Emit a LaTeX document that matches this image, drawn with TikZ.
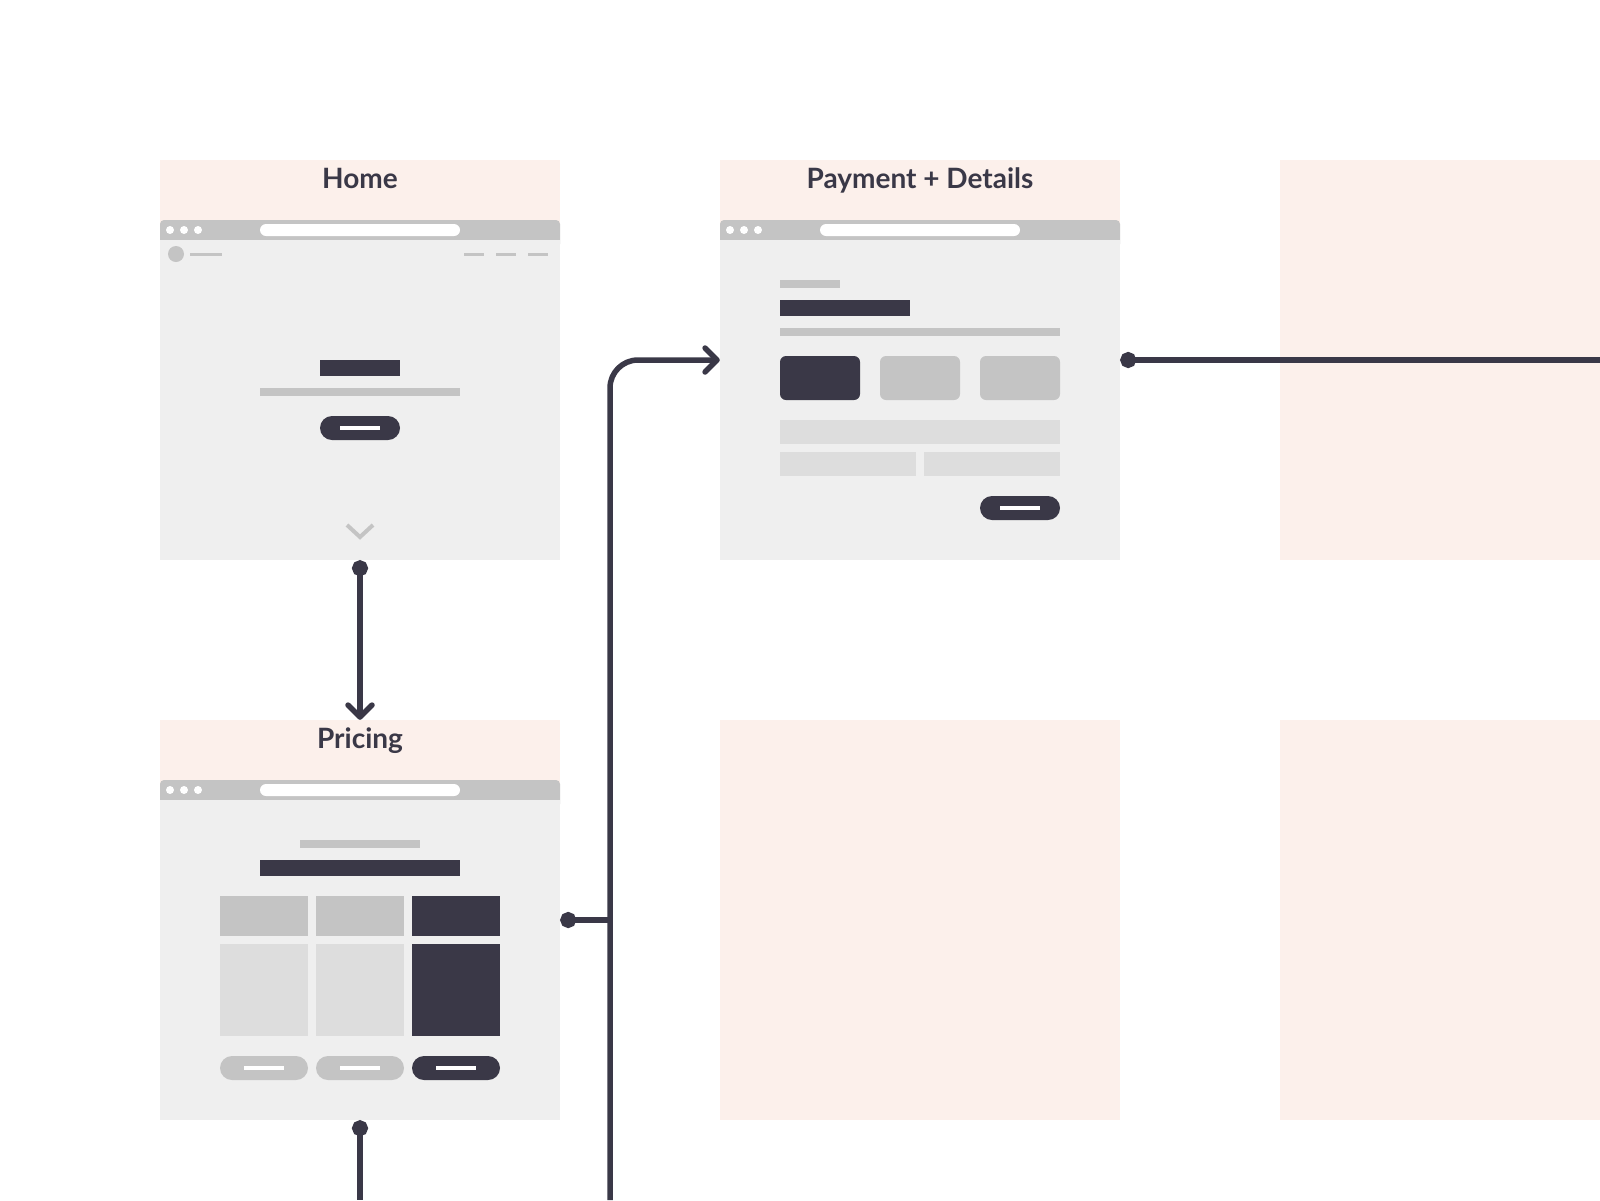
\documentclass[tikz,border=0pt]{standalone}
\usepackage{fontspec}
\setmainfont{Lato}
\usetikzlibrary{arrows.meta}

\definecolor{ink}{HTML}{3A3847}
\definecolor{peach}{HTML}{FCF0EB}
\definecolor{canvas}{HTML}{EFEFEF}
\definecolor{chrome}{HTML}{C4C4C4}
\definecolor{fieldgray}{HTML}{DDDDDD}

% browser window chrome, drawn in local coordinates of a 400 x 400 page
\newcommand{\browserwin}{%
  \fill[chromebar, rounded corners=4pt] (0,60) rectangle (400,88);
  \fill[window] (0,80) rectangle (400,400);
  \foreach \dx in {10,24,38} \fill[white] (\dx,70) circle[radius=4pt];
  \fill[white, rounded corners=6pt] (100,64) rectangle (300,76);
}

\begin{document}
\begin{tikzpicture}[
  x=1pt,
  y=-1pt,
  page/.style={fill=peach, minimum size=400pt, inner sep=0pt},
  title/.style={font=\bfseries\fontsize{28}{32}\selectfont, text=ink, anchor=base},
  window/.style={fill=canvas},
  chromebar/.style={fill=chrome},
  muted/.style={fill=chrome},
  dark/.style={fill=ink},
  inputbox/.style={fill=fieldgray},
  pill/.style={rounded corners=12pt},
  card/.style={rounded corners=6pt},
  flow/.style={draw=ink, line width=5.5pt}
]
\useasboundingbox (0,0) rectangle (1600,1200);
\clip (0,0) rectangle (1600,1200);
\fill[white] (0,0) rectangle (1600,1200);

% ---------------------------------------------------------------------------
% Home
% ---------------------------------------------------------------------------
\node[page] (home) at (360,360) {};
\node[title] (home-title) at (360,188) {Home};
\begin{scope}[shift={(160,160)}]
  \browserwin
  \fill[muted] (16,94) circle[radius=8pt];
  \fill[muted] (30,93) rectangle (62,96);
  \foreach \nx in {304,336,368} \fill[muted] (\nx,93) rectangle (\nx+20,96);
  \fill[dark] (160,200) rectangle (240,216);
  \fill[muted] (100,228) rectangle (300,236);
  \fill[dark, pill] (160,256) rectangle (240,280);
  \fill[white] (180,266) rectangle (220,270);
  \draw[chrome, line width=4pt] (187,365) -- (200,377) -- (213,365);
\end{scope}

% ---------------------------------------------------------------------------
% Payment + Details
% ---------------------------------------------------------------------------
\node[page] (payment) at (920,360) {};
\node[title] (payment-title) at (920,188) {Payment + Details};
\begin{scope}[shift={(720,160)}]
  \browserwin
  \fill[muted] (60,120) rectangle (120,128);
  \fill[dark] (60,140) rectangle (190,156);
  \fill[muted] (60,168) rectangle (340,176);
  \fill[dark, card] (60,196) rectangle (140,240);
  \fill[muted, card] (160,196) rectangle (240,240);
  \fill[muted, card] (260,196) rectangle (340,240);
  \fill[inputbox] (60,260) rectangle (340,284);
  \fill[inputbox] (60,292) rectangle (196,316);
  \fill[inputbox] (204,292) rectangle (340,316);
  \fill[dark, pill] (260,336) rectangle (340,360);
  \fill[white] (280,346) rectangle (320,350);
\end{scope}

% ---------------------------------------------------------------------------
% Pricing
% ---------------------------------------------------------------------------
\node[page] (pricing) at (360,920) {};
\node[title] (pricing-title) at (360,748) {Pricing};
\begin{scope}[shift={(160,720)}]
  \browserwin
  \fill[muted] (140,120) rectangle (260,128);
  \fill[dark] (100,140) rectangle (300,156);
  \foreach \cx/\head/\body in {60/muted/inputbox, 156/muted/inputbox, 252/dark/dark} {
    \fill[\head] (\cx,176) rectangle (\cx+88,216);
    \fill[\body] (\cx,224) rectangle (\cx+88,316);
  }
  \foreach \cx/\btn in {60/muted, 156/muted, 252/dark} {
    \fill[\btn, pill] (\cx,336) rectangle (\cx+88,360);
    \fill[white] (\cx+24,346) rectangle (\cx+64,350);
  }
\end{scope}

% ---------------------------------------------------------------------------
% Empty pages
% ---------------------------------------------------------------------------
\node[page] (next-top) at (1480,360) {};
\node[page] (next-mid) at (920,920) {};
\node[page] (next-low) at (1480,920) {};

% Connectors
\coordinate (pay-exit) at (1600,360);
\coordinate (price-exit) at (360,1200);
\coordinate (trunk-in) at (610,1200);

\draw[flow, {Circle[length=16pt]}-{Straight Barb[round, length=12pt, width=24pt]}]
  (home.south) -- (pricing.north);
\draw[flow, -{Straight Barb[round, length=12pt, width=24pt]}, rounded corners=28pt]
  (trunk-in) |- (payment.west);
\draw[flow, {Circle[length=16pt]}-] (pricing.east) -- (pricing.east -| trunk-in);
\draw[flow, {Circle[length=16pt]}-] (pricing.south) -- (price-exit);
\draw[flow, {Circle[length=16pt]}-] (payment.east) -- (pay-exit);
\end{tikzpicture}
\end{document}
